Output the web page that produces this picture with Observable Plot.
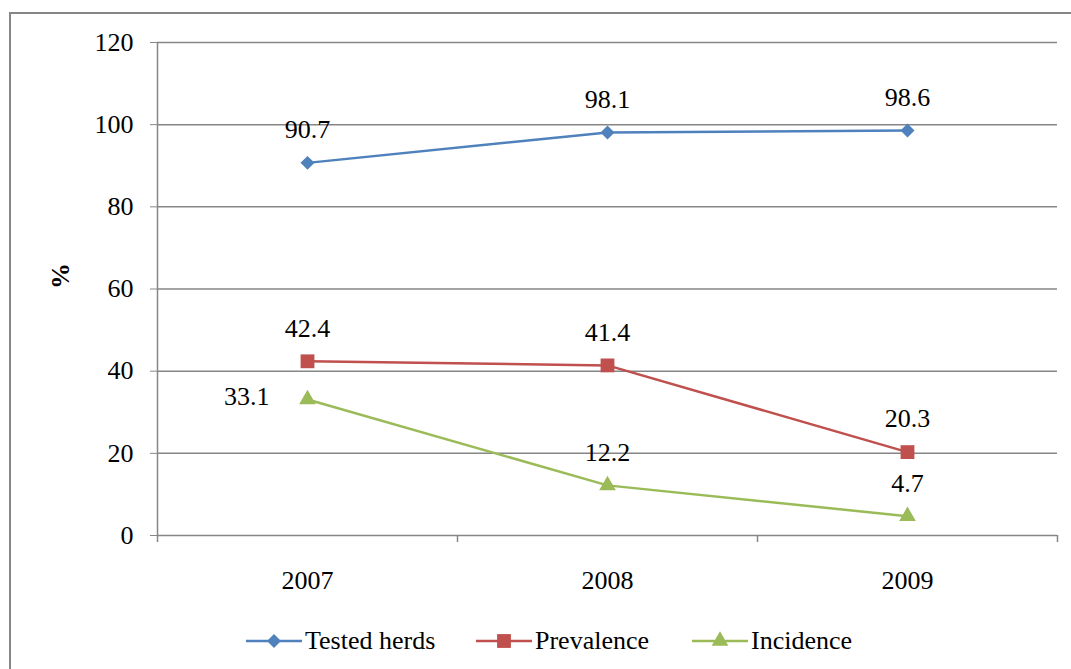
<!DOCTYPE html>
<html>
<head>
<meta charset="utf-8">
<script src="https://cdn.jsdelivr.net/npm/d3@7"></script>
<script src="https://cdn.jsdelivr.net/npm/@observablehq/plot@0.6"></script>
<style>
  html, body { margin: 0; padding: 0; background: #fff; }
  #wrap { position: relative; width: 1071px; height: 669px; overflow: hidden; font-family: "Liberation Serif", "Tinos", "DejaVu Serif", "Noto Serif", serif; }
  #border { position: absolute; left: 9px; top: 12px; width: 1100px; height: 720px; border: 2px solid #868686; box-sizing: border-box; pointer-events: none; }
  #chart { position: absolute; left: 0; top: 0; }
  #legend { position: absolute; top: 624px; left: 0; width: 1071px; height: 34px; font-size: 26px; color: #000; }
  .item { position: absolute; top: 0; display: flex; align-items: center; height: 34px; }
  .item svg { display: block; }
  #chart svg text { font-family: "Liberation Serif", "Tinos", "DejaVu Serif", "Noto Serif", serif; }
</style>
</head>
<body>
<div id="wrap">
  <div id="chart"></div>
  <div id="border"></div>
  <div id="legend"></div>
</div>
<script>
const years = [2007, 2008, 2009];
const testedHerds = [90.7, 98.1, 98.6];
const prevalence = [42.4, 41.4, 20.3];
const incidence = [33.1, 12.2, 4.7];
const seriesNames = ["Tested herds", "Prevalence", "Incidence"];
const seriesColors = ["#4F81BD", "#C0504D", "#9BBB59"];
const seriesSymbols = ["diamond2", "square", "triangle"];
const markerRadius = [6.3, 7.8, 6.2];
const yTicks = [0, 20, 40, 60, 80, 100, 120];

const seriesValues = [testedHerds, prevalence, incidence];
const data = [];
seriesNames.forEach((name, i) => {
  years.forEach((yr, j) => data.push({series: name, year: yr, value: seriesValues[i][j], r: markerRadius[i]}));
});

const xDomain = [years[0] - 0.5, years[years.length - 1] + 0.5];
const bandEdges = d3.range(xDomain[0], xDomain[1] + 0.01, 1);
const font = "'Liberation Serif', 'Tinos', 'DejaVu Serif', 'Noto Serif', serif";
const isSide = d => d.series === "Incidence" && d.year === years[0];

const chart = Plot.plot({
  width: 1071,
  height: 669,
  marginLeft: 157,
  marginRight: 14,
  marginTop: 42,
  marginBottom: 134,
  style: {fontFamily: font, fontSize: "26px", color: "#000", background: "transparent"},
  x: {domain: xDomain, axis: null},
  y: {domain: [0, 120], axis: null},
  r: {type: "identity"},
  color: {domain: seriesNames, range: seriesColors},
  symbol: {domain: seriesNames, range: seriesSymbols},
  marks: [
    Plot.gridY(yTicks.filter(t => t > 0), {stroke: "#868686", strokeOpacity: 1, strokeWidth: 1.5}),
    Plot.ruleY([0], {stroke: "#868686", strokeWidth: 1.5}),
    Plot.ruleX([xDomain[0]], {stroke: "#868686", strokeWidth: 1.5}),
    Plot.axisY({ticks: yTicks, label: null, tickSize: 7, tickPadding: 17, stroke: "#868686", fill: "#000", fontSize: 26, tickFormat: d => String(d)}),
    Plot.axisX({ticks: bandEdges, label: null, tickSize: 7, tickFormat: () => "", stroke: "#868686", strokeWidth: 1.5}),
    Plot.text(years, {x: d => d, y: 0, dy: 45, text: d => String(d), fontSize: 26, fill: "#000", lineAnchor: "middle"}),
    Plot.text(["%"], {frameAnchor: "left", dx: -97, rotate: -90, fontWeight: "bold", fontSize: 26, fill: "#000"}),
    Plot.line(data, {x: "year", y: "value", z: "series", stroke: "series", strokeWidth: 2.5}),
    Plot.dot(data, {x: "year", y: "value", fill: "series", symbol: "series", r: "r", stroke: "none"}),
    Plot.text(data.filter(d => !isSide(d)), {x: "year", y: "value", text: d => d.value.toFixed(1), dy: -33, fontSize: 26, fill: "#000", lineAnchor: "middle"}),
    Plot.text(data.filter(isSide), {x: "year", y: "value", text: d => d.value.toFixed(1), dx: -38, dy: -3, textAnchor: "end", fontSize: 26, fill: "#000", lineAnchor: "middle"})
  ]
});
document.getElementById("chart").appendChild(chart);

// Legend
const legendX = [246, 476, 692];
const legend = document.getElementById("legend");
const symMap = {diamond2: d3.symbolDiamond2, square: d3.symbolSquare, triangle: d3.symbolTriangle};
seriesNames.forEach((name, i) => {
  const item = document.createElement("div");
  item.className = "item";
  item.style.left = legendX[i] + "px";
  const sw = d3.create("svg").attr("width", 56).attr("height", 34);
  sw.append("line").attr("x1", 0).attr("x2", 56).attr("y1", 17).attr("y2", 17)
    .attr("stroke", seriesColors[i]).attr("stroke-width", 2.5);
  sw.append("path").attr("transform", "translate(28,17)")
    .attr("d", d3.symbol(symMap[seriesSymbols[i]], Math.PI * markerRadius[i] * markerRadius[i])())
    .attr("fill", seriesColors[i]);
  item.appendChild(sw.node());
  const label = document.createElement("span");
  label.textContent = name;
  label.style.marginLeft = "3px";
  item.appendChild(label);
  legend.appendChild(item);
});
</script>
</body>
</html>
